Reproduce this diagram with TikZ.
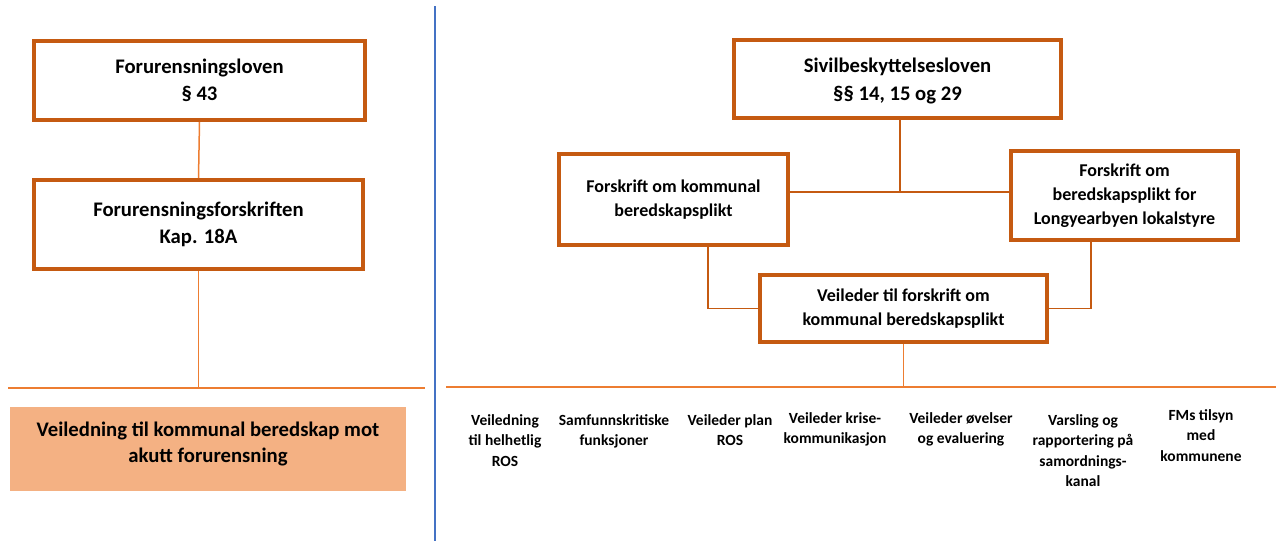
\documentclass[tikz,border=0pt]{standalone}
\usepackage{fontspec}
\setmainfont{Carlito}
\usetikzlibrary{positioning, calc}
\definecolor{boxorange}{HTML}{C55A11}
\definecolor{lineorange}{HTML}{ED7D31}
\definecolor{fillorange}{HTML}{F4B183}
\definecolor{divblue}{HTML}{4472C4}

\begin{document}
\begin{tikzpicture}[x=0.5pt, y=-0.5pt,
    lawbox/.style={draw=boxorange, line width=2pt, rectangle, align=center, inner sep=0pt,
        font=\bfseries\fontsize{10.35}{13.75}\selectfont},
    smallbox/.style={lawbox, font=\bfseries\fontsize{9}{12}\selectfont},
    guidebox/.style={fill=fillorange, rectangle, align=center, inner sep=0pt,
        font=\bfseries\fontsize{10.35}{13}\selectfont},
    doc/.style={anchor=north, align=center, inner sep=0pt,
        font=\bfseries\fontsize{7.75}{10.25}\selectfont},
    conn/.style={draw=boxorange, line width=0.6pt},
    bar/.style={draw=lineorange, line width=0.75pt}]
    \useasboundingbox (0,0) rectangle (1280,541);

    % Left column
    \node[lawbox, minimum width=165.5pt, minimum height=39.5pt] (fl) at (199.5,80.5)
        {Forurensningsloven\\§ 43};
    \node[lawbox, minimum width=164.5pt, minimum height=44.5pt] (ff) at (198.5,224.5)
        {Forurensningsforskriften\\Kap. 18A};
    \node[guidebox, minimum width=198pt, minimum height=42pt, text depth=7pt] (va) at (208,449)
        {Veiledning til kommunal beredskap mot\\akutt forurensning};

    \coordinate (barLw) at (8,388);
    \coordinate (barLe) at (425,388);
    \draw[bar] (fl.south) -- (ff.north);
    \draw[bar] (ff.south) -- (ff.south |- barLw);
    \draw[bar] (barLw) -- (barLe);

    % Divider
    \draw[divblue, line width=0.75pt] (435,6) -- (435,541);

    % Right column
    \node[lawbox, minimum width=163.5pt, minimum height=39pt, text depth=0pt] (sbl) at (897.5,79)
        {Sivilbeskyttelsesloven\\§§ 14, 15 og 29};
    \node[smallbox, minimum width=114.5pt, minimum height=45.5pt] (fkb) at (673.5,199.5)
        {Forskrift om kommunal\\beredskapsplikt};
    \node[smallbox, minimum width=113.5pt, minimum height=44.5pt] (fbl) at (1124.5,195.5)
        {Forskrift om\\beredskapsplikt for\\Longyearbyen lokalstyre};
    \node[smallbox, minimum width=143.5pt, minimum height=33.5pt] (vfk) at (903.5,308.5)
        {Veileder til forskrift om\\kommunal beredskapsplikt};

    \coordinate (sj) at (900,192);
    \coordinate (barRw) at (446,387);
    \coordinate (barRe) at (1276,387);
    \draw[conn] (sbl.south -| sj) -- (sj);
    \draw[conn] (fkb.east |- sj) -- (fbl.west |- sj);
    \draw[conn] ([xshift=17.25pt]fkb.south) |- (vfk.west);
    \draw[conn] ([xshift=-16.75pt]fbl.south) |- (vfk.east);
    \draw[bar] (vfk.south) -- (vfk.south |- barRw);
    \draw[bar] (barRw) -- (barRe);

    % Guidance documents
    \foreach \x/\y/\txt [count=\i] in {
        505/414/{Veiledning\\til helhetlig\\ROS},
        614/414/{Samfunnskritiske\\funksjoner},
        730/414/{Veileder plan\\ROS},
        835/412/{Veileder krise-\\kommunikasjon},
        961/412/{Veileder øvelser\\og evaluering},
        1083/414/{Varsling og\\rapportering på\\samordnings-\\kanal},
        1201/409/{FMs tilsyn\\med\\kommunene}}
        \node[doc] (doc\i) at (\x,\y) {\txt};
\end{tikzpicture}
\end{document}
